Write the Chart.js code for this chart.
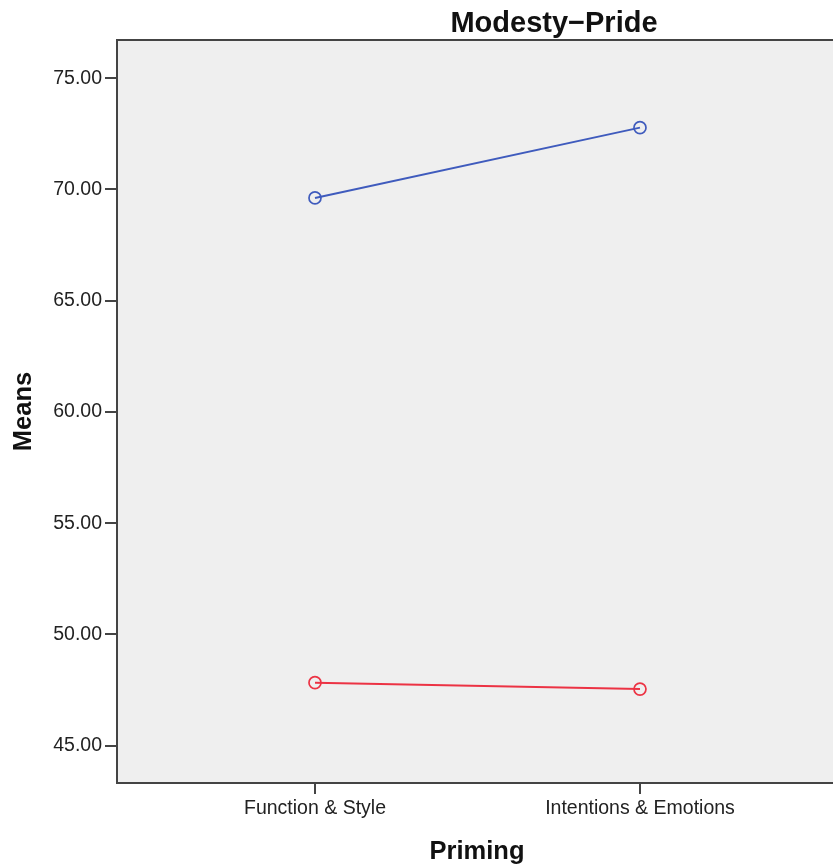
<!DOCTYPE html>
<html>
<head>
<meta charset="utf-8">
<script src="https://cdn.jsdelivr.net/npm/chart.js@4/dist/chart.umd.min.js"></script>
<style>
  html, body { margin: 0; padding: 0; background: #ffffff; overflow: hidden; }
  #wrap { width: 833px; height: 867px; overflow: hidden; position: relative; }
  canvas { display: block; }
</style>
</head>
<body>
<div id="wrap"><canvas id="c" width="1108" height="867"></canvas></div>
<script>
// ---- data ----
const categories = ["Function & Style", "Intentions & Emotions"];
const seriesBlue = [69.62, 72.78];
const seriesRed = [47.83, 47.54];
const yTickValues = [45, 50, 55, 60, 65, 70, 75];
const chartTitle = "Modesty\u2212Pride";
const xTitle = "Priming";
const yTitle = "Means";

const FONT = "'Liberation Sans', Arial, sans-serif";

const plotFrame = {
  id: 'plotFrame',
  beforeDraw(chart) {
    const { ctx, chartArea: a } = chart;
    ctx.save();
    ctx.fillStyle = '#efefef';
    ctx.fillRect(a.left, a.top, a.right - a.left, a.bottom - a.top);
    ctx.restore();
  },
  afterDraw(chart) {
    const { ctx, chartArea: a } = chart;
    ctx.save();
    ctx.strokeStyle = '#444444';
    ctx.lineWidth = 2;
    ctx.strokeRect(a.left, a.top, a.right - a.left, a.bottom - a.top);
    ctx.restore();
  }
};

function toPoints(arr) { return arr.map((v, i) => ({ x: i, y: v })); }

new Chart(document.getElementById('c'), {
  type: 'line',
  data: {
    datasets: [
      {
        data: toPoints(seriesBlue),
        yAxisID: 'y',
        borderColor: '#3f5bbd',
        borderWidth: 2,
        pointRadius: 6,
        pointBorderWidth: 1.7,
        pointBackgroundColor: 'rgba(0,0,0,0)',
        pointBorderColor: '#3f5bbd',
        fill: false, tension: 0
      },
      {
        data: toPoints(seriesRed),
        yAxisID: 'y',
        borderColor: '#ec3344',
        borderWidth: 2,
        pointRadius: 6,
        pointBorderWidth: 1.7,
        pointBackgroundColor: 'rgba(0,0,0,0)',
        pointBorderColor: '#ec3344',
        fill: false, tension: 0
      }
    ]
  },
  options: {
    responsive: false,
    animation: false,
    layout: { padding: 0 },
    plugins: {
      legend: { display: false },
      tooltip: { enabled: false },
      title: {
        display: true,
        text: chartTitle,
        color: '#111111',
        font: { family: FONT, size: 29, weight: 'bold', lineHeight: 1 },
        padding: { top: 9, bottom: 2 }
      }
    },
    scales: {
      x: {
        type: 'linear',
        min: -0.6092,
        max: 1.6062,
        afterBuildTicks(scale) { scale.ticks = categories.map((c, i) => ({ value: i })); },
        afterFit(scale) { scale.height = 84; },
        ticks: {
          callback: (v) => categories[v] !== undefined ? categories[v] : '',
          color: '#222222',
          font: { family: FONT, size: 19.5 },
          padding: 3,
          maxRotation: 0,
          autoSkip: false
        },
        grid: { drawOnChartArea: false, drawTicks: true, tickLength: 11, color: '#444444', lineWidth: 2 },
        border: { display: false },
        title: {
          display: true, text: xTitle, color: '#111111',
          font: { family: FONT, size: 25.5, weight: 'bold' },
          padding: { top: 0, bottom: 0 }
        }
      },
      y: {
        type: 'linear',
        position: 'left',
        min: 43.32,
        max: 76.72,
        afterBuildTicks(scale) { scale.ticks = yTickValues.map(v => ({ value: v })); },
        afterFit(scale) { scale.width = 117; },
        ticks: {
          callback: (v) => Number(v).toFixed(2),
          color: '#222222',
          font: { family: FONT, size: 19.5 },
          padding: 3
        },
        grid: { drawOnChartArea: false, drawTicks: true, tickLength: 12, color: '#444444', lineWidth: 2 },
        border: { display: false },
        title: {
          display: true, text: yTitle, color: '#111111',
          font: { family: FONT, size: 25.5, weight: 'bold' },
          padding: { top: 9, bottom: 0 }
        }
      },
      // empty right-hand band (legend region of the original, cropped off)
      yRight: {
        type: 'linear',
        position: 'right',
        display: true,
        afterFit(scale) { scale.width = 271; },
        ticks: { display: false },
        grid: { display: false },
        border: { display: false },
        title: { display: false }
      }
    }
  },
  plugins: [plotFrame]
});
</script>
</body>
</html>
